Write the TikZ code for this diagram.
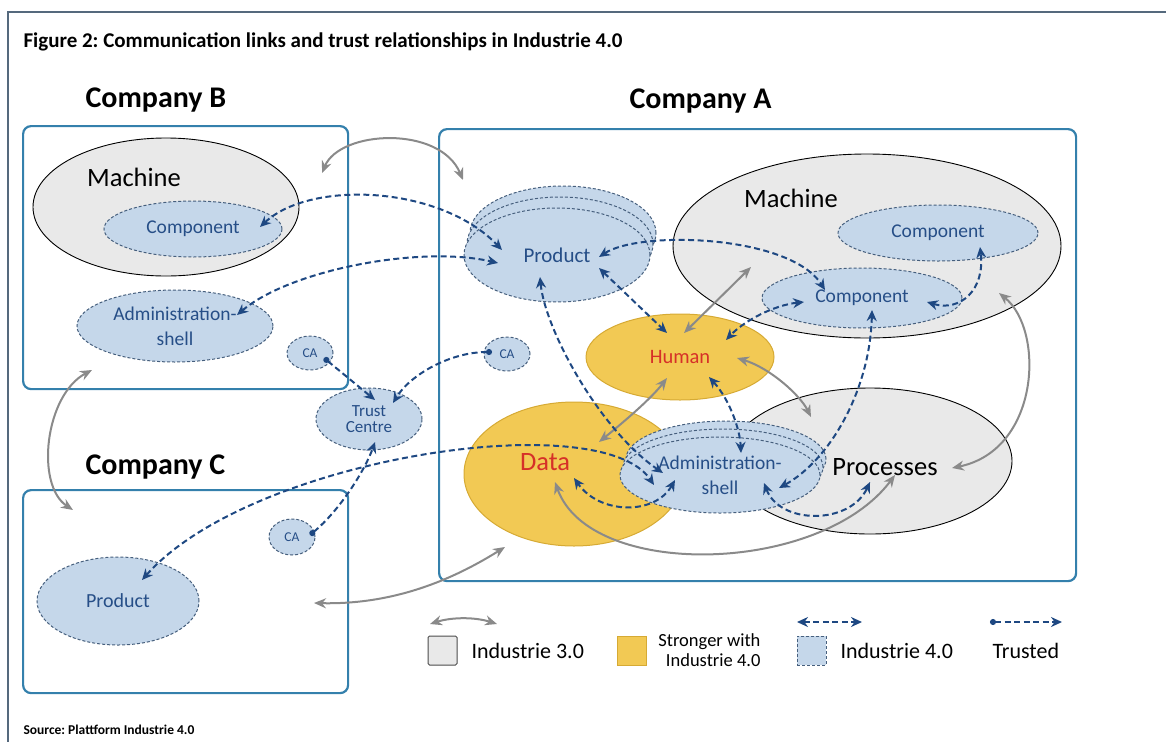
\documentclass[tikz,border=0pt]{standalone}
\usepackage{fontspec}
\setmainfont{Carlito}
\frenchspacing
\usetikzlibrary{shapes.geometric, arrows.meta, calc}

\definecolor{boxblue}{RGB}{52,128,172}
\definecolor{shellfill}{RGB}{197,215,234}
\definecolor{shelldraw}{RGB}{70,95,125}
\definecolor{linkblue}{RGB}{30,72,130}
\definecolor{textblue}{RGB}{38,78,135}
\definecolor{oldgray}{RGB}{233,233,233}
\definecolor{linkgray}{RGB}{138,138,138}
\definecolor{strongfill}{RGB}{242,201,84}
\definecolor{strongdraw}{RGB}{214,170,52}
\definecolor{humanred}{RGB}{214,48,40}
\definecolor{framegray}{RGB}{85,105,125}

\begin{document}
\begin{tikzpicture}[x=1pt, y=-1pt,
    company/.style={draw=boxblue, line width=2.2pt, rounded corners=8pt, anchor=north west, inner sep=0pt},
    dims/.style 2 args={minimum width=#1pt, minimum height=#2pt},
    old/.style={ellipse, draw=black, line width=0.9pt, fill=oldgray, inner sep=0pt},
    shell/.style={ellipse, draw=shelldraw, dash pattern=on 3pt off 2pt, line width=1pt, fill=shellfill, inner sep=0pt,
      text=textblue, align=center, font=\fontsize{19.5}{25}\selectfont},
    strong/.style={ellipse, draw=strongdraw, line width=1pt, fill=strongfill, inner sep=0pt},
    catext/.style={font=\fontsize{13.5}{13.5}\selectfont},
    bigtext/.style={font=\fontsize{26.5}{28}\selectfont},
    nametext/.style={anchor=west, font=\bfseries\fontsize{30}{32}\selectfont},
    keytext/.style={anchor=west, font=\fontsize{22}{24}\selectfont},
    link/.style={draw=linkblue, line width=2pt, dash pattern=on 6pt off 3.5pt,
      {Stealth[length=11pt,width=10pt]}-{Stealth[length=11pt,width=10pt]}},
    trusted/.style={draw=linkblue, line width=2pt, dash pattern=on 6pt off 3.5pt,
      {Circle[length=6pt]}-{Stealth[length=11pt,width=10pt]}},
    classic/.style={draw=linkgray, line width=2pt,
      {Stealth[length=12pt,width=10pt]}-{Stealth[length=12pt,width=10pt]}}]
    \useasboundingbox (0,0) rectangle (1166,742);
    \draw[framegray, line width=1.3pt] (1166,12) -- (8,12) -- (8,742);
    \node[anchor=west, font=\bfseries\fontsize{21}{22}\selectfont] (title) at (20,42) {Figure 2: Communication links and trust relationships in Industrie 4.0};
    \node[anchor=west, font=\bfseries\fontsize{13.5}{14}\selectfont] (source) at (20,730) {Source: Plattform Industrie 4.0};

    \node[nametext] (nameB) at (82,100) {Company B};
    \node[nametext] (nameA) at (626,101) {Company A};
    \node[nametext] (nameC) at (82,467) {Company C};
    \node[company, dims={325}{263}] (boxB) at (22,125) {};
    \node[company, dims={637}{452}] (boxA) at (438,128) {};
    \node[company, dims={325}{203}] (boxC) at (22,489) {};

    \node[old, dims={266}{138}] (machB) at (166,207) {};
    \node[bigtext] (machBname) at (134,177) {Machine};
    \node[shell, dims={178}{56}] (compB) at (193,229) {Component};
    \node[shell, dims={196}{72}] (adminB) at (175,326) {Administration-\\shell};
    \node[shell, catext, dims={46}{34}] (caB) at (310,353) {CA};
    \node[shell, dims={106}{62}, font=\fontsize{17}{16.5}\selectfont] (trust) at (369,419) {Trust\\Centre};
    \node[shell, catext, dims={46}{36}] (caC) at (292,537) {CA};
    \node[shell, dims={162}{88}, font=\fontsize{20}{22}\selectfont] (prodC) at (118,601) {Product};

    \node[shell, catext, dims={46}{34}] (caA) at (507,354) {CA};
    \node[old, dims={388}{184}] (machA) at (867,246) {};
    \node[bigtext] (machAname) at (791,198) {Machine};
    \node[shell, dims={200}{56}] (compTop) at (938,233) {Component};
    \node[shell, dims={200}{60}] (compMid) at (862,298) {Component};
    \node[old, dims={284}{146}] (proc) at (870,461) {};
    \node[bigtext] (procname) at (885,467) {Processes};
    \node[strong, dims={220}{144}] (data) at (574,474) {};
    \node[bigtext, text=humanred] (dataname) at (545,462) {Data};
    \foreach \s/\n in {2/adminBack, 1/adminMid}
      \node[shell, dims={200}{76}] (\n) at (720+3*\s, 475-8*\s) {};
    \node[shell, dims={200}{76}] (adminA) at (720,475) {Administration-\\shell};
    \node[strong, dims={188}{86}, text=humanred, font=\fontsize{20.5}{22}\selectfont] (human) at (680,357) {Human};
    \foreach \s/\n in {2/prodBack, 1/prodMid}
      \node[shell, dims={186}{94}] (\n) at (557+3*\s, 255-11*\s) {};
    \node[shell, dims={186}{94}, font=\fontsize{21}{22}\selectfont] (prodA) at (557,255) {Product};

    \coordinate (bTop) at (322,173); \coordinate (aTop) at (463,180);
    \coordinate (bLow) at (92,370); \coordinate (cTop) at (73,510);
    \coordinate (cRight) at (314,603); \coordinate (aLow) at (505,547);
    \draw[classic] (bTop) .. controls (340,130) and (440,125) .. (aTop);
    \draw[classic] (bLow) .. controls (45,395) and (35,485) .. (cTop);
    \draw[classic] (cRight) .. controls (400,605) and (460,575) .. (aLow);
    \draw[classic] ($(human)+(4,-24)$) -- ($(machA)+(-116,21)$);
    \draw[classic] ($(human)+(-13,21)$) .. controls (650,400) and (620,425) .. ($(data)+(25,-32)$);
    \draw[classic] ($(human)+(57,1)$) .. controls (770,368) and (800,395) .. ($(proc)+(-59,-44)$);
    \draw[classic] ($(machA)+(132,47)$) .. controls (1045,330) and (1040,450) .. ($(proc)+(82,7)$);
    \draw[classic] ($(data)+(-19,8)$) .. controls (590,580) and (820,575) .. ($(proc)+(25,14)$);

    \draw[link] ($(compB)+(67,-2)$) .. controls (310,180) and (440,185) .. ($(prodA)+(-55,-5)$);
    \draw[link] ($(adminB)+(62,-11)$) .. controls (290,270) and (420,245) .. ($(prodA)+(-59,8)$);
    \draw[trusted] ($(caB)+(14,5)$) -- ($(trust)+(6,-19)$);
    \draw[trusted] ($(caA)+(-15,-2)$) .. controls (450,352) and (410,375) .. ($(trust)+(24,-16)$);
    \draw[trusted] ($(caC)+(18,-2)$) .. controls (340,510) and (365,470) .. ($(trust)+(6,23)$);
    \draw[link] ($(prodC)+(24,-21)$) .. controls (250,458) and (600,405) .. ($(adminA)+(-66,10)$);
    \draw[link] ($(prodA)+(42,2)$) .. controls (640,230) and (790,235) .. ($(compMid)+(-37,-8)$);
    \draw[link] ($(prodA)+(42,13)$) -- ($(human)+(-13,-24)$);
    \draw[link] ($(prodA)+(-17,22)$) .. controls (545,330) and (600,430) .. ($(adminA)+(-57,-2)$);
    \draw[link] ($(compMid)+(-58,4)$) .. controls (775,305) and (745,320) .. ($(human)+(46,-17)$);
    \draw[link] ($(compMid)+(65,4)$) .. controls (960,312) and (985,290) .. ($(compTop)+(42,14)$);
    \draw[link] ($(compMid)+(10,12)$) .. controls (870,390) and (830,460) .. ($(adminA)+(59,13)$);
    \draw[link] ($(human)+(29,20)$) .. controls (730,400) and (740,430) .. ($(adminA)+(21,-22)$);
    \draw[link] ($(adminA)+(-45,5)$) .. controls (655,515) and (600,515) .. ($(data)+(0,4)$);
    \draw[link] ($(adminA)+(44,8)$) .. controls (780,525) and (850,525) .. ($(proc)+(0,21)$);

    \coordinate (keyG1) at (430,624); \coordinate (keyG2) at (497,624);
    \coordinate (keyL1) at (797,622); \coordinate (keyL2) at (862,622);
    \coordinate (keyT1) at (990,622); \coordinate (keyT2) at (1062,622);
    \draw[classic] (keyG1) .. controls (452,617) and (475,617) .. (keyG2);
    \draw[link] (keyL1) -- (keyL2);
    \draw[trusted] (keyT1) -- (keyT2);
    \node[draw=black!70, fill=oldgray, line width=1pt, rounded corners=1.5pt, dims={29}{29}] (key30) at (442.5,650.5) {};
    \node[keytext] (key30text) at (468,651) {Industrie 3.0};
    \node[draw=strongdraw, fill=strongfill, line width=1pt, dims={29}{29}] (keyStrong) at (631.5,650.5) {};
    \node[anchor=east, align=right, font=\fontsize{18.5}{20}\selectfont] (keyStrongtext) at (764,650) {Stronger with\\Industrie 4.0};
    \node[draw=shelldraw, dash pattern=on 3pt off 2pt, fill=shellfill, line width=1pt, dims={29}{29}] (key40) at (811.5,650.5) {};
    \node[keytext] (key40text) at (837,651) {Industrie 4.0};
    \node[keytext] (keyTtext) at (989,651) {Trusted};
\end{tikzpicture}
\end{document}
